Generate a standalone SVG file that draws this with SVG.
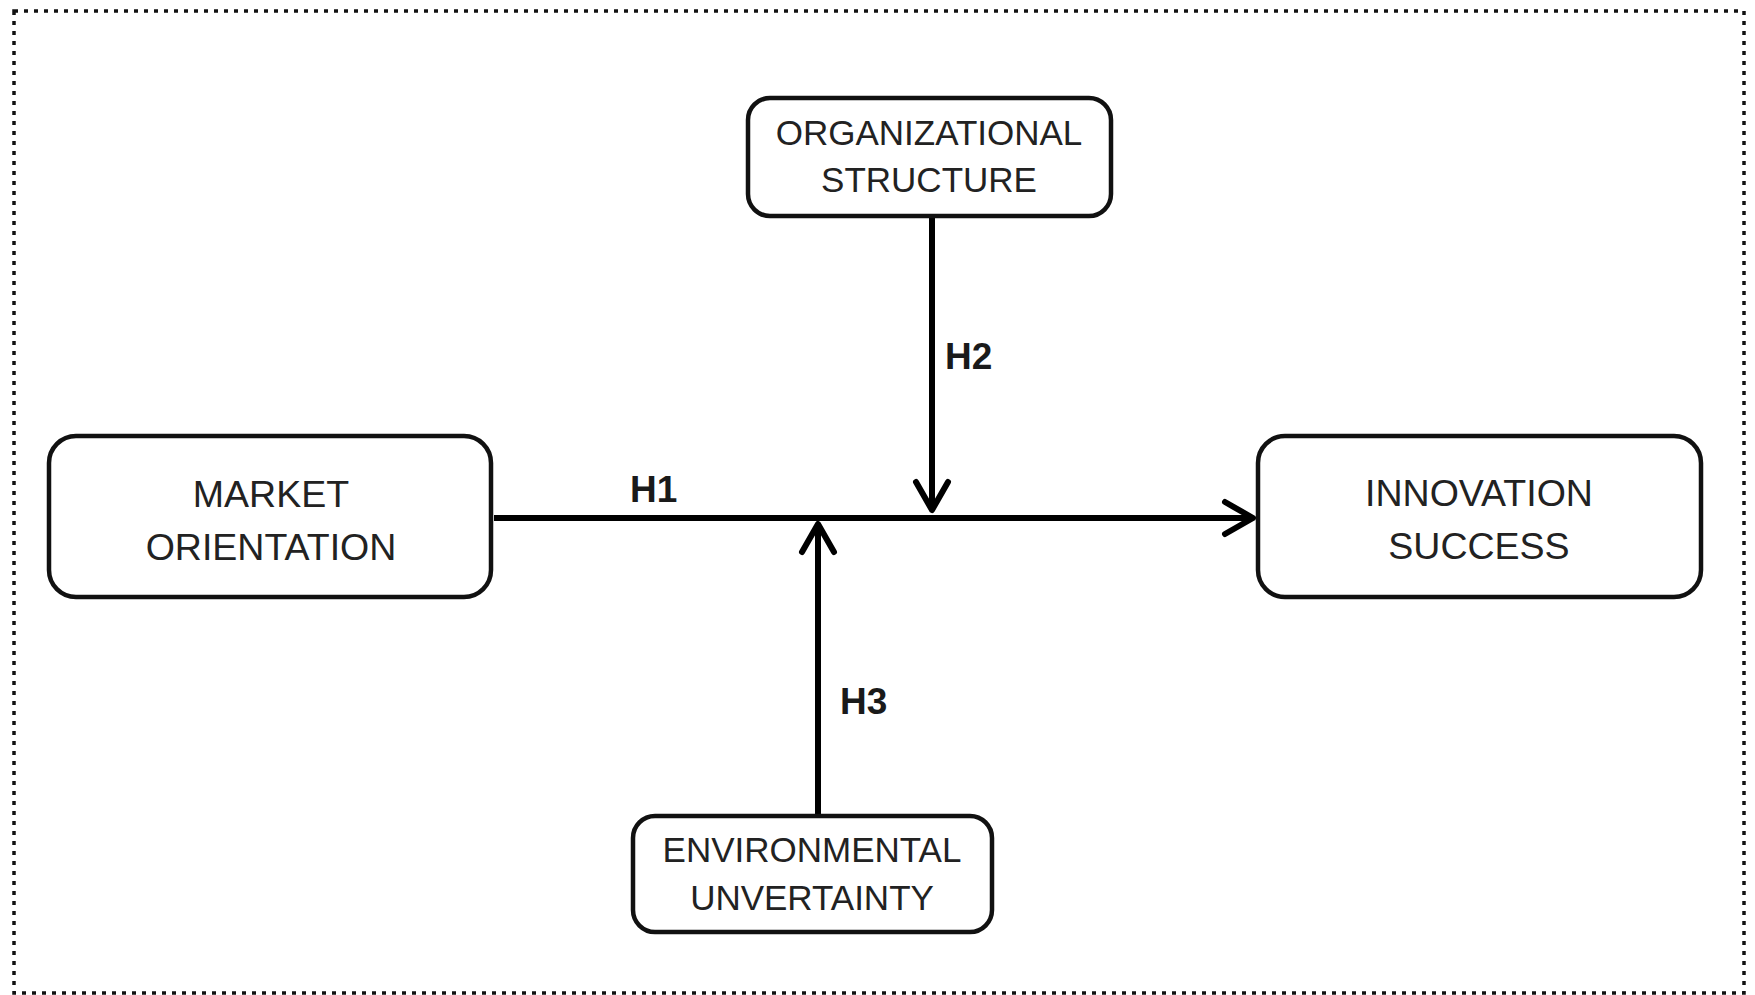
<svg xmlns="http://www.w3.org/2000/svg" width="1755" height="995" viewBox="0 0 1755 995">
  <style>
    .box { fill: #ffffff; stroke: #111111; stroke-width: 4.5; }
    .lbl { font-family: "Liberation Sans", Arial, sans-serif; fill: #222222; text-anchor: middle; }
    .big { font-size: 37.5px; }
    .small { font-size: 35px; }
    .h { font-family: "Liberation Sans", Arial, sans-serif; font-weight: bold; font-size: 37px; fill: #1a1a1a; }
    .conn { stroke: #000000; stroke-width: 6; fill: none; }
  </style>
  <defs>
    <marker id="chev" viewBox="-34 -20 40 40" refX="0" refY="0" markerWidth="40" markerHeight="40" markerUnits="userSpaceOnUse" orient="auto">
      <path d="M -28 -16 L 0 0 L -28 16" fill="none" stroke="#000000" stroke-width="6" stroke-linecap="round" stroke-linejoin="round"/>
    </marker>
  </defs>
  <rect x="14" y="11" width="1730" height="982" fill="#ffffff" stroke="#111111" stroke-width="3.5" stroke-dasharray="4 6"/>
  <g id="connectors">
    <line class="conn" x1="494" y1="518" x2="1253" y2="518" marker-end="url(#chev)"/>
    <line class="conn" x1="932" y1="217" x2="932" y2="510" marker-end="url(#chev)"/>
    <line class="conn" x1="818" y1="815" x2="818" y2="524" marker-end="url(#chev)"/>
    <text class="h" x="630" y="502">H1</text>
    <text class="h" x="945" y="369">H2</text>
    <text class="h" x="840" y="714">H3</text>
  </g>
  <g id="market-orientation">
    <rect class="box" x="49" y="436" width="442" height="161" rx="27"/>
    <text class="lbl big" x="271" y="507">MARKET</text>
    <text class="lbl big" x="271" y="560">ORIENTATION</text>
  </g>
  <g id="innovation-success">
    <rect class="box" x="1258" y="436" width="443" height="161" rx="27"/>
    <text class="lbl big" x="1479" y="506">INNOVATION</text>
    <text class="lbl big" x="1479" y="559">SUCCESS</text>
  </g>
  <g id="organizational-structure">
    <rect class="box" x="748" y="98" width="363" height="118" rx="22"/>
    <text class="lbl small" x="929" y="145">ORGANIZATIONAL</text>
    <text class="lbl small" x="929" y="192">STRUCTURE</text>
  </g>
  <g id="environmental-uncertainty">
    <rect class="box" x="633" y="816" width="359" height="116" rx="22"/>
    <text class="lbl small" x="812" y="862">ENVIRONMENTAL</text>
    <text class="lbl small" x="812" y="910">UNVERTAINTY</text>
  </g>
</svg>
